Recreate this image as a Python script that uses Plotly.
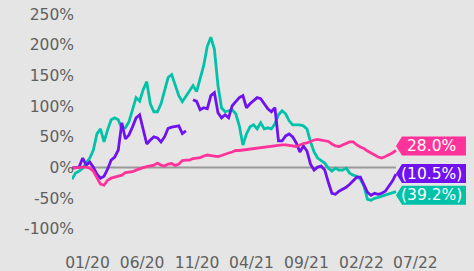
import plotly.graph_objects as go
import pandas as pd

start_date = "2019-11-19"
end_date = "2022-05-08"
axis_end = "2022-12-11"
n_points = 92

teal_vals = [-18.9, -9, -5.7, -1, 7.4, 15.6, 28.7, 55, 63, 41.8,
             61.5, 77.9, 81, 78, 63, 64.8, 74.6, 94, 114, 108.2,
             127, 140, 104, 91, 91, 104, 127, 146.7, 151.6, 133.6,
             117, 107.4, 115.6, 125.4, 133.6, 123.8, 143.4, 166.4, 197.5, 212.3,
             192.6, 133.6, 97.5, 91, 92.6, 94.3, 87.7, 68, 36.9, 54.9,
             66.4, 69.7, 63, 73, 63, 64.8, 63, 71.3, 86, 92.6,
             87.7, 76.2, 69.7, 69.7, 69.7, 68, 63, 41.8, 25.4, 15.6,
             10.7, 7.4, -0.8, -5.7, -0.8, -4.1, -4.1, -0.8, -9, -12.3,
             -13.9, -18.9, -30.3, -51.6, -53.3, -50, -48.4, -46.7, -45, -43.4,
             -41.8, -39.2]

purple_vals = [-0.8, 0, 0.8, 15.6, 4.1, 9, 0.8, -10.7, -17.2, -13.9,
               -2.5, 12.3, 17.2, 28.7, 73, 46.7, 53.3, 66.4, 81, 86,
               61.5, 38.5, 45, 50, 48.4, 41.8, 50, 64, 66, 66.4,
               68, 55.4, 59.8, None, 110.7, 107.9, 94.3, 97.5, 95.9, 117.2,
               122, 89.3, 81, 86, 81, 100.8, 107.4, 114, 117.2, 97.5,
               104, 109, 114, 112.3, 104, 95.9, 91, 97.5, 43.4, 43.4,
               51.6, 54.9, 50, 40.2, 25.4, 35.2, 27, 5.7, -4.1, 0.8,
               2.5, -4.1, -23.8, -41.8, -43.4, -38.5, -35.2, -32, -27, -20.5,
               -15.6, -15.6, -27, -40.2, -45, -41.8, -43.4, -41.8, -38.5, -30.3,
               -22, -10.5]

pink_vals = [-0.8, 0, 0.8, 0.8, 0.8, -0.8, -5.7, -17.2, -27, -28.7,
             -20.5, -17.2, -15.6, -13.1, -12.3, -8.2, -7.4, -6.6, -4.1, -1.6,
             0, 1.6, 3.3, 4.1, 7.4, 4.1, 2.5, 5.7, 6.6, 3.3,
             5.7, 11.5, 12.3, 12.3, 14.8, 15.6, 16.4, 18.9, 20.5, 19.7,
             18.9, 18, 19.7, 22.1, 23.8, 25.4, 27.9, 27.9, 28.7, 28.7,
             29.5, 30.3, 31.1, 32, 32.8, 34.4, 35.2, 36, 36.9, 36.9,
             36.9, 36, 35.2, 34.4, 36.9, 39.3, 40.2, 42.6, 45, 45.9,
             45, 44.3, 42.6, 38.5, 35.2, 34.4, 36.9, 38.5, 41.8, 41.8,
             36.9, 33.6, 31.1, 27, 23, 20.5, 17.2, 15.6, 18, 20.5,
             23.8, 28]

tick_dates = ["2020-01-01", "2020-06-01", "2020-11-01", "2021-04-01",
              "2021-09-01", "2022-02-01", "2022-07-01"]
tick_text = ["01/20", "06/20", "11/20", "04/21", "09/21", "02/22", "07/22"]
y_ticks = [-100, -50, 0, 50, 100, 150, 200, 250]
y_tick_text = ["-100%", "-50%", "0%", "50%", "100%", "150%", "200%", "250%"]

label_texts = ["(39.2%)", "(10.5%)", "28.0%"]

dates = pd.date_range(start_date, end_date, periods=n_points)

colors = ["#00c2a8", "#7012f0", "#ff3399"]
series = [teal_vals, purple_vals, pink_vals]
label_shift = [-3.5, 0.5, 4.5]

FONT = "DejaVu Sans"
TICK_COLOR = "#606060"
fig = go.Figure()
for vals, col in zip(series, colors):
    fig.add_trace(go.Scatter(x=dates, y=vals, mode="lines",
                             line=dict(color=col, width=2.8),
                             connectgaps=False, hoverinfo="skip",
                             showlegend=False))

shapes = [dict(type="line", xref="x", yref="y", x0=start_date, x1=end_date,
               y0=0, y1=0, line=dict(color="#999999", width=2), layer="below")]
annotations = []
for vals, col, txt, dy in zip(series, colors, label_texts, label_shift):
    last = vals[-1]
    h = 9.5
    path = (f"M 0,{dy} L 6,{dy + h} L 70,{dy + h} L 70,{dy - h} "
            f"L 6,{dy - h} Z")
    shapes.append(dict(type="path", xref="x", yref="y",
                       xsizemode="pixel", ysizemode="pixel",
                       xanchor=end_date, yanchor=last, path=path,
                       fillcolor=col, line=dict(width=0), layer="above"))
    annotations.append(dict(x=end_date, y=last, xref="x", yref="y",
                            text=txt, showarrow=False, xanchor="center",
                            yanchor="middle", xshift=36, yshift=dy,
                            font=dict(family=FONT, size=15.5, color="white")))

tick_font = dict(family=FONT, size=15.5, color=TICK_COLOR)
fig.update_layout(
    width=474, height=271,
    margin=dict(l=72, r=0, t=7, b=24),
    paper_bgcolor="#e5e5e5", plot_bgcolor="#e5e5e5",
    shapes=shapes, annotations=annotations,
    font=dict(family=FONT, size=15.5, color=TICK_COLOR),
    xaxis=dict(type="date", range=[start_date, axis_end],
               tickvals=tick_dates, ticktext=tick_text, automargin=False,
               showgrid=False, zeroline=False, showline=False,
               ticks="", ticklabelstandoff=4, tickfont=tick_font),
    yaxis=dict(range=[-129.3, 261.6], tickvals=y_ticks, ticktext=y_tick_text,
               automargin=False, ticklabelstandoff=-3,
               ticklabeloverflow="allow",
               showgrid=False, zeroline=False, showline=False, ticks="",
               tickfont=tick_font),
)

fig.write_html("out.html", config={"displayModeBar": False},
               post_script="document.body.style.margin='0';")
